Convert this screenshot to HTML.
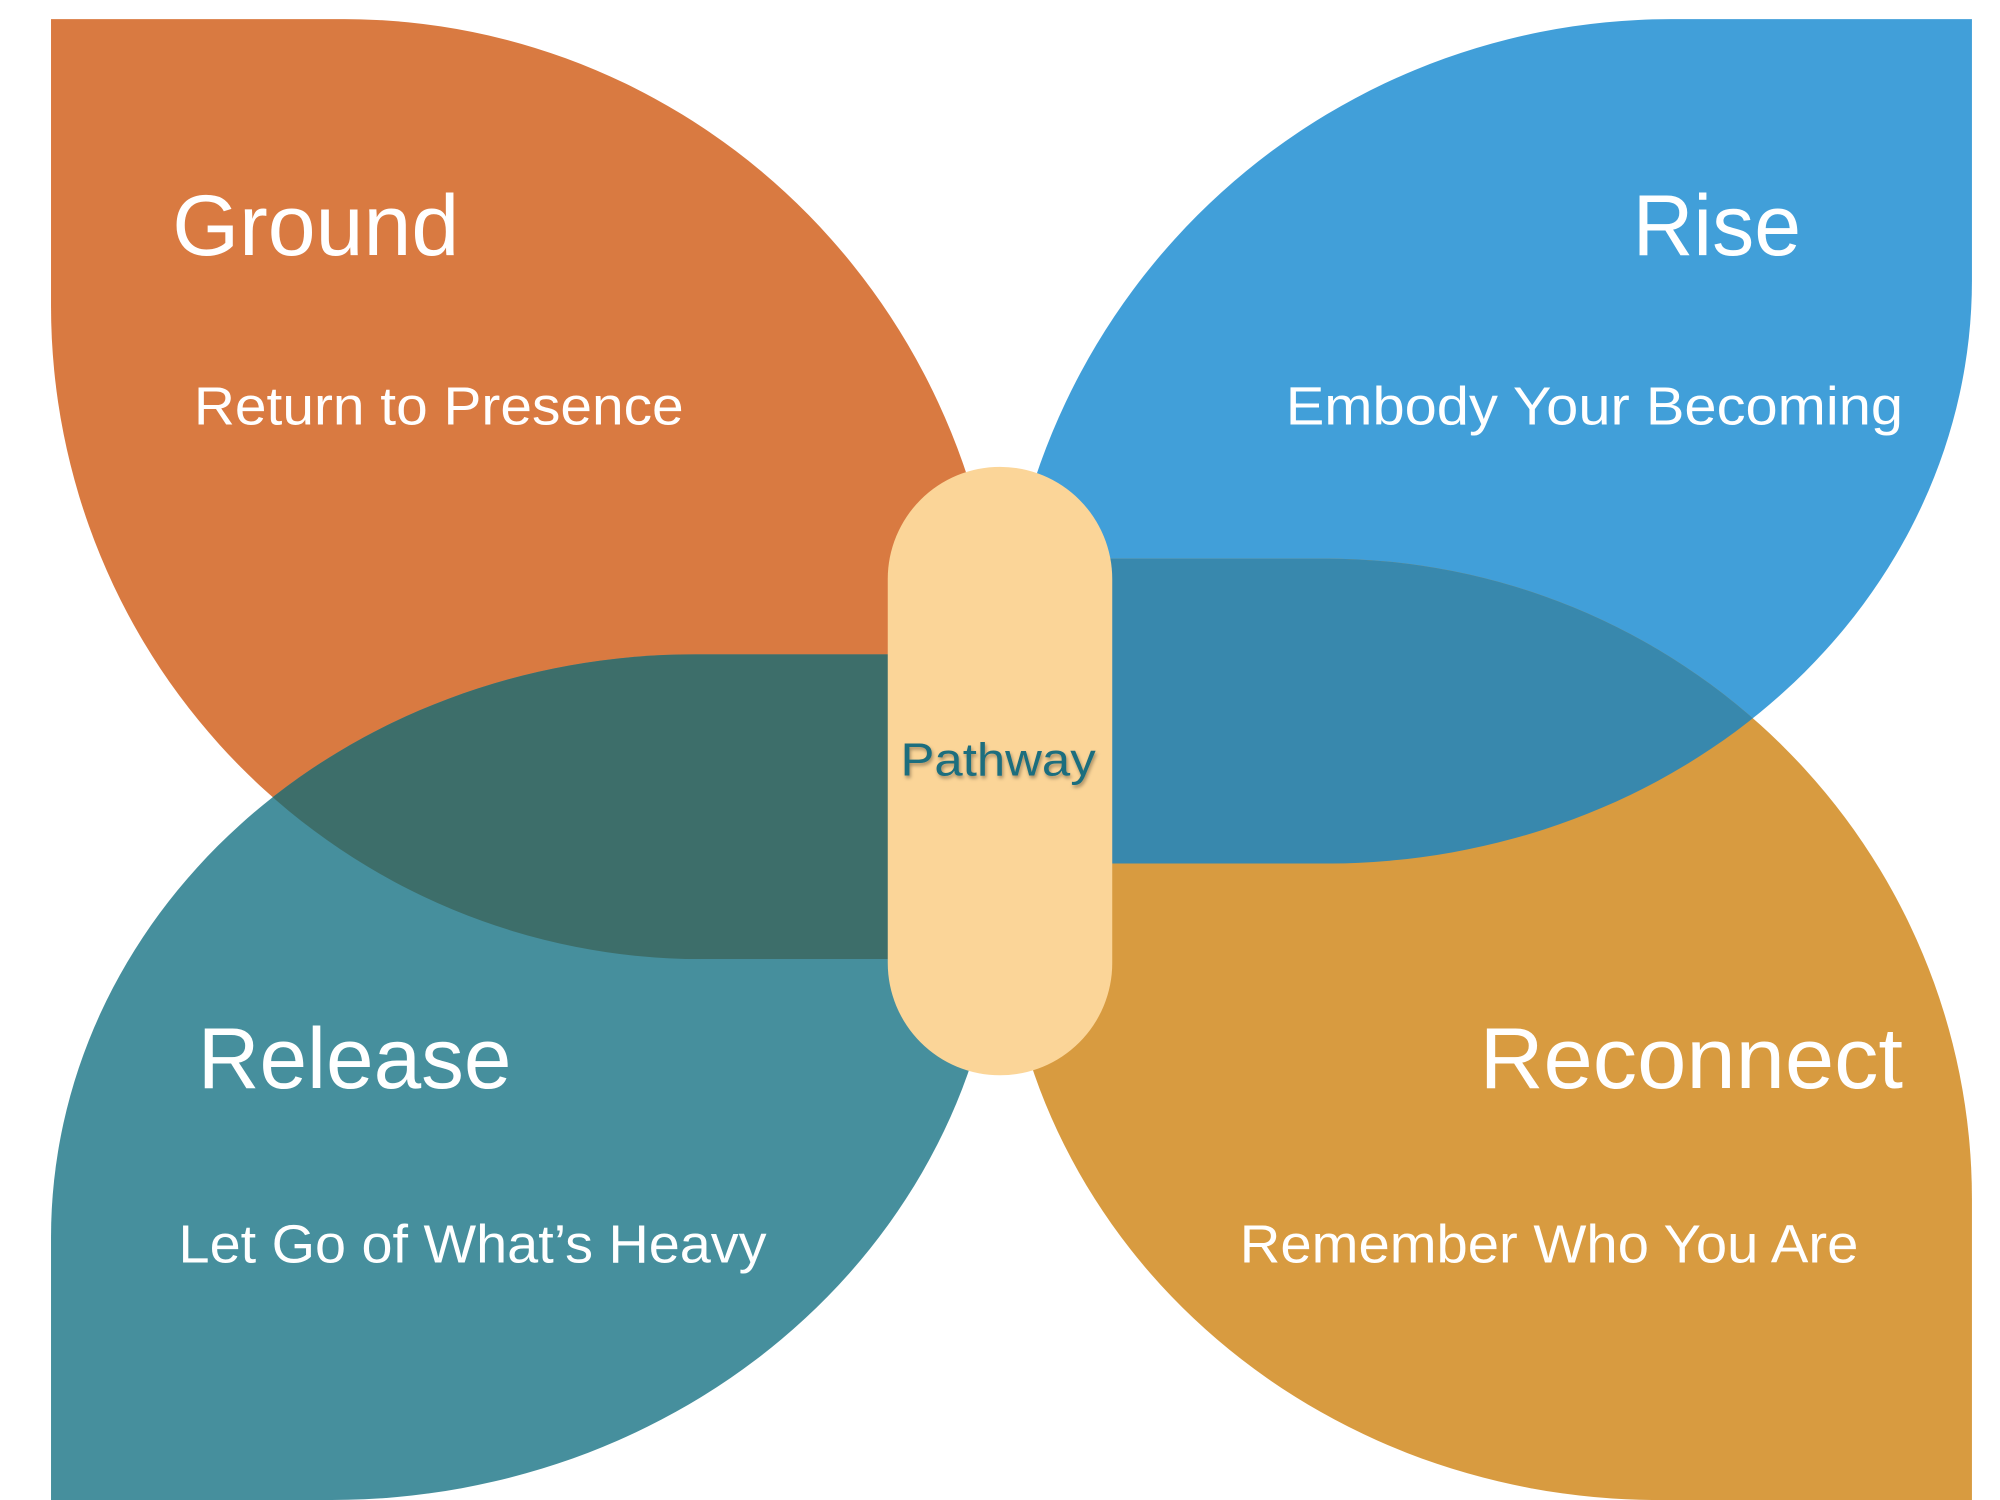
<!DOCTYPE html>
<html><head><meta charset="utf-8"><style>
html,body{margin:0;padding:0;background:#fff;}
svg{display:block;}
text{font-family:"Liberation Sans","DejaVu Sans",sans-serif;fill:#fff;}
</style></head><body>
<svg width="2000" height="1500" viewBox="0 0 1568 1176" xmlns="http://www.w3.org/2000/svg">
<defs>
<clipPath id="cg"><path d="M40,15 H270 A515,525 0 0 1 785,540 V752 H550 A510,512 0 0 1 40,240 Z"/></clipPath>
<clipPath id="cr"><path d="M1546,15 H1310 A525,525 0 0 0 785,540 V677 H1040 A506,457 0 0 0 1546,220 Z"/></clipPath>
<filter id="sh" x="-20%" y="-50%" width="140%" height="200%"><feDropShadow dx="1" dy="2" stdDeviation="1.5" flood-color="#000" flood-opacity="0.35"/></filter>
</defs>
<rect width="1568" height="1176" fill="#fff"/>
<path d="M40,15 H270 A515,525 0 0 1 785,540 V752 H550 A510,512 0 0 1 40,240 Z" fill="#d97a41"/>
<path d="M40,1176 H260 A525,486 0 0 0 785,690 V513 H545 A505,457 0 0 0 40,970 Z" fill="#468f9d"/>
<path clip-path="url(#cg)" d="M40,1176 H260 A525,486 0 0 0 785,690 V513 H545 A505,457 0 0 0 40,970 Z" fill="#3d6e6a"/>
<path d="M1546,15 H1310 A525,525 0 0 0 785,540 V677 H1040 A506,457 0 0 0 1546,220 Z" fill="#419fd9"/>
<path d="M1546,1176 H1300 A515,486 0 0 1 785,690 V438 H1040 A506,502 0 0 1 1546,940 Z" fill="#d89b40"/>
<path clip-path="url(#cr)" d="M1546,1176 H1300 A515,486 0 0 1 785,690 V438 H1040 A506,502 0 0 1 1546,940 Z" fill="#3888ad"/>
<rect x="696" y="366" width="176" height="477" rx="88" ry="88" fill="#fbd598"/>
<text x="706" y="608" font-size="36" textLength="153" lengthAdjust="spacingAndGlyphs" style="fill:#1f6e7e" filter="url(#sh)">Pathway</text>
<text x="135" y="200" font-size="68" textLength="225" lengthAdjust="spacingAndGlyphs">Ground</text>
<text x="152" y="333" font-size="42" textLength="384" lengthAdjust="spacingAndGlyphs">Return to Presence</text>
<text x="1280" y="200" font-size="68" textLength="132" lengthAdjust="spacingAndGlyphs">Rise</text>
<text x="1008" y="333" font-size="42" textLength="484" lengthAdjust="spacingAndGlyphs">Embody Your Becoming</text>
<text x="155" y="853" font-size="68" textLength="246" lengthAdjust="spacingAndGlyphs">Release</text>
<text x="140" y="990" font-size="42" textLength="461" lengthAdjust="spacingAndGlyphs">Let Go of What’s Heavy</text>
<text x="1160" y="853" font-size="68" textLength="332" lengthAdjust="spacingAndGlyphs">Reconnect</text>
<text x="972" y="990" font-size="42" textLength="485" lengthAdjust="spacingAndGlyphs">Remember Who You Are</text>
</svg>
</body></html>
